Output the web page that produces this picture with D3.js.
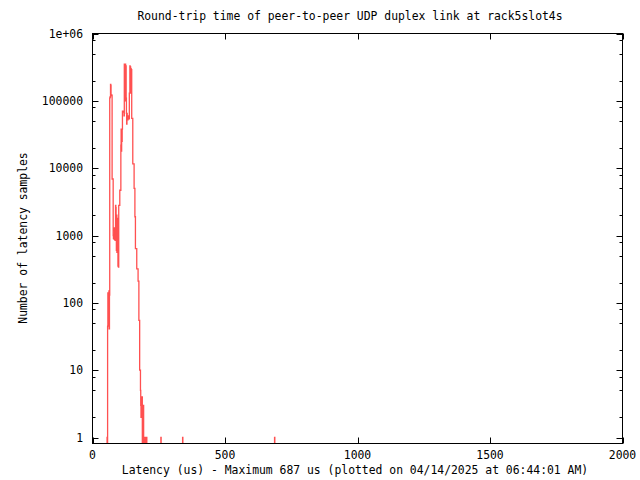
<!DOCTYPE html>
<html><head><meta charset="utf-8">
<script src="https://cdn.jsdelivr.net/npm/d3@7"></script>
<style>body{margin:0;background:#fff}svg{display:block}text{font-family:"DejaVu Sans Mono",monospace;font-size:11.4px;fill:#000}</style>
</head><body><svg id="c" width="640" height="480"></svg>
<script>
const titleText = "Round-trip time of peer-to-peer UDP duplex link at rack5slot4s";
const xLabelText = "Latency (us) - Maximum 687 us (plotted on 04/14/2025 at 06:44:01 AM)";
const yLabelText = "Number of latency samples";
const xTicks = [0, 500, 1000, 1500, 2000];
const yTicks = [1, 10, 100, 1000, 10000, 100000, 1000000];
const yTickLabels = ["1", "10", "100", "1000", "10000", "100000", "1e+06"];
// latency bin (us) and sample count
const binUs = [0,54,55,56,57,58,59,60,61,62,63,64,
 65,66,67,68,69,70,71,72,73,74,75,76,77,
 78,79,80,81,82,83,84,85,86,87,88,89,90,91,92,93,94,95,96,97,98,
 99,100,101,102,103,104,105,106,
 107,108,109,110,111,112,113,114,115,116,117,118,119,
 120,121,122,123,124,125,126,127,128,129,130,
 131,132,133,134,135,136,137,138,139,140,
 141,142,143,144,145,146,147,148,149,150,151,
 152,153,154,155,156,157,158,159,160,161,162,163,164,165,166,
 167,168,169,170,171,172,173,174,175,176,177,178,179,180,
 181,182,183,184,185,186,187,188,189,190,191,192,193,194,195,
 200,201,204,205,258,259,340,341,687,688,2000];
const counts = [0,0,1,0,45,140,45,120,60,150,41,130,
 110000,113000,115000,175000,170000,120000,123000,123000,120000,6900,6900,6900,6900,
 1000,900,950,1000,880,1300,1200,850,1000,2800,2600,900,600,2000,560,1500,700,1800,350,900,340,
 2800,2800,2800,2800,4700,4700,4700,4700,
 22000,38000,18000,38000,25000,38000,70000,70000,68000,70000,70000,70000,60000,
 350000,120000,340000,100000,350000,130000,330000,110000,65000,45000,65000,
 55000,58000,52000,56000,60000,55000,57000,54000,130000,130000,
 330000,150000,320000,130000,300000,140000,290000,55000,55000,55000,55000,
 11600,11600,11600,11600,11600,5000,5000,5000,1900,1900,640,640,640,640,640,
 320,320,320,320,320,210,210,210,55,55,55,10,10,10,
 5,3,2,4,2,3,4,0,3,2,1,3,0,1,0,
 1,0,1,0,1,0,1,0,1,0,0];

const svg = d3.select("#c");
const L = 92.5, R = 622.5, T = 33.5, B = 443.5;
const x = d3.scaleLinear().domain([0, 2000]).range([L, R]);
const y = d3.scaleLog().domain([0.815, 1e6]).range([B, T]);

svg.append("defs").append("clipPath").attr("id", "clip")
  .append("rect").attr("x", L).attr("y", T).attr("width", R - L).attr("height", B - T);

const data = binUs.map((u, i) => ({u, c: counts[i]}));
const line = d3.line().curve(d3.curveStepAfter)
  .x(d => x(d.u)).y(d => d.c > 0 ? y(d.c) : B + 20);
svg.append("path").datum(data).attr("clip-path", "url(#clip)")
  .attr("d", line).attr("fill", "none").attr("stroke", "#ff5050").attr("stroke-width", 1.3);

// axes ticks (inward, mirrored)
const g = svg.append("g").attr("stroke", "#000").attr("stroke-width", 1);
const minor = [];
for (let e = 0; e < 6; e++) for (const m of [2, 5, 8]) minor.push(m * Math.pow(10, e));
yTicks.forEach(v => {
  const yy = Math.round(y(v)) + 0.5;
  g.append("line").attr("x1", L).attr("x2", L + 6).attr("y1", yy).attr("y2", yy);
  g.append("line").attr("x1", R).attr("x2", R - 6).attr("y1", yy).attr("y2", yy);
});
minor.forEach(v => {
  const yy = Math.round(y(v)) + 0.5;
  g.append("line").attr("x1", L).attr("x2", L + 3).attr("y1", yy).attr("y2", yy);
  g.append("line").attr("x1", R).attr("x2", R - 3).attr("y1", yy).attr("y2", yy);
});
xTicks.forEach(v => {
  const xx = Math.round(x(v)) + 0.5;
  g.append("line").attr("x1", xx).attr("x2", xx).attr("y1", B).attr("y2", B - 6);
  g.append("line").attr("x1", xx).attr("x2", xx).attr("y1", T).attr("y2", T + 6);
});
svg.append("rect").attr("x", L).attr("y", T).attr("width", R - L).attr("height", B - T)
  .attr("fill", "none").attr("stroke", "#000").attr("stroke-width", 1);

yTicks.forEach((v, i) => {
  svg.append("text").attr("x", 83).attr("y", y(v) + 4).attr("text-anchor", "end").text(yTickLabels[i]);
});
xTicks.forEach(v => {
  svg.append("text").attr("x", x(v)).attr("y", 459).attr("text-anchor", "middle").text(v);
});
svg.append("text").attr("x", 350).attr("y", 20).attr("text-anchor", "middle").text(titleText);
svg.append("text").attr("x", 355).attr("y", 474).attr("text-anchor", "middle").text(xLabelText);
svg.append("text").attr("transform", "translate(27,238) rotate(-90)").attr("text-anchor", "middle").text(yLabelText);
</script></body></html>
